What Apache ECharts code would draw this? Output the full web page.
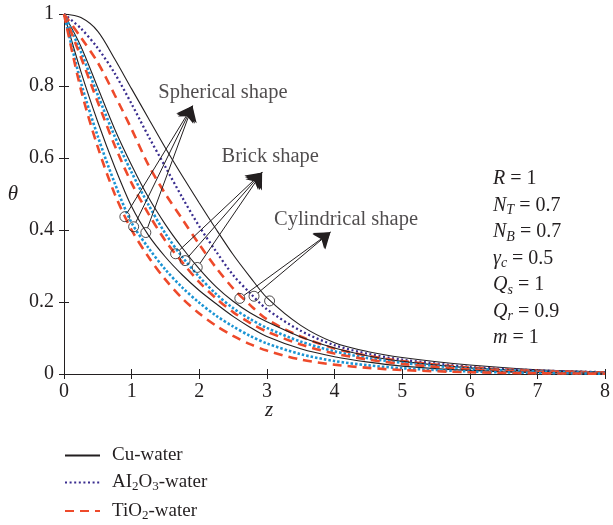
<!DOCTYPE html>
<html>
<head>
<meta charset="utf-8">
<script src="https://cdn.jsdelivr.net/npm/echarts@6/dist/echarts.min.js"></script>
<style>
  html, body { margin: 0; padding: 0; background: #fff; }
  #chart { width: 613px; height: 525px; }
</style>
</head>
<body>
<div id="chart"></div>
<script>
// z values shared by all curves
const zValues = [0, 0.25, 0.5, 0.75, 1, 1.25, 1.5, 1.75, 2, 2.25, 2.5, 2.75, 3, 3.5, 4, 4.5, 5, 6, 7, 8];

// spherical shape (lowest group)
const cuSpherical = [1, 0.84, 0.7, 0.575, 0.465, 0.385, 0.325, 0.275, 0.232, 0.195, 0.16, 0.13, 0.104, 0.07, 0.048, 0.033, 0.022, 0.01, 0.004, 0.002];
const alSpherical = [1, 0.81, 0.66, 0.53, 0.42, 0.35, 0.29, 0.24, 0.198, 0.162, 0.132, 0.106, 0.085, 0.055, 0.036, 0.024, 0.016, 0.007, 0.003, 0.001];
const tiSpherical = [1, 0.79, 0.63, 0.5, 0.4, 0.325, 0.262, 0.21, 0.168, 0.134, 0.106, 0.083, 0.065, 0.04, 0.026, 0.017, 0.011, 0.005, 0.002, 0.001];

// brick shape (middle group)
const cuBrick = [1, 0.91, 0.795, 0.68, 0.58, 0.49, 0.415, 0.35, 0.292, 0.242, 0.202, 0.17, 0.145, 0.103, 0.072, 0.05, 0.035, 0.017, 0.008, 0.004];
const alBrick = [1, 0.895, 0.775, 0.66, 0.56, 0.47, 0.39, 0.325, 0.27, 0.222, 0.183, 0.153, 0.128, 0.09, 0.063, 0.044, 0.031, 0.015, 0.007, 0.003];
const tiBrick = [1, 0.88, 0.755, 0.635, 0.53, 0.445, 0.37, 0.31, 0.255, 0.21, 0.172, 0.142, 0.118, 0.082, 0.057, 0.04, 0.028, 0.013, 0.006, 0.003];

// cylindrical shape (top group)
const cuCylindrical = [1, 0.99, 0.952, 0.875, 0.792, 0.71, 0.628, 0.55, 0.475, 0.402, 0.332, 0.27, 0.212, 0.135, 0.087, 0.062, 0.046, 0.025, 0.012, 0.006];
const alCylindrical = [1, 0.96, 0.905, 0.835, 0.75, 0.66, 0.575, 0.49, 0.41, 0.34, 0.275, 0.225, 0.18, 0.12, 0.08, 0.056, 0.04, 0.02, 0.01, 0.005];
const tiCylindrical = [1, 0.935, 0.865, 0.775, 0.68, 0.58, 0.5, 0.43, 0.36, 0.295, 0.238, 0.192, 0.152, 0.104, 0.071, 0.05, 0.036, 0.018, 0.009, 0.004];

// circle markers on the curves, [z, theta]
const sphericalMarks = [[0.9, 0.437], [1.03, 0.409], [1.21, 0.393]];
const brickMarks = [[1.65, 0.334], [1.79, 0.315], [1.97, 0.296]];
const cylindricalMarks = [[2.6, 0.21], [2.81, 0.216], [3.04, 0.203]];

// arrow tips and labels
const sphericalTip = [1.9, 0.745];
const brickTip = [2.93, 0.56];
const cylindricalTip = [3.94, 0.394];
const shapeLabels = [
    [2.35, 0.783, 'Spherical shape'],
    [3.05, 0.603, 'Brick shape'],
    [4.17, 0.428, 'Cylindrical shape']
];

const serif = 'Liberation Serif';
const ink = '#231f20';
const red = '#ee4a2b';
const lightBlue = '#1b94d4';
const purple = '#3a2d8f';

function pairs(values) {
    return zValues.map((z, i) => [z, values[i]]);
}

function curve(name, values, style) {
    return {
        name: name,
        type: 'line',
        data: pairs(values),
        smooth: 0.3,
        showSymbol: false,
        symbol: 'none',
        lineStyle: style,
        itemStyle: { color: style.color },
        z: 2
    };
}

const solid = { color: ink, width: 1.1, type: 'solid' };
const dotPurple = { color: purple, width: 2.3, type: [2, 2.6] };
const dotBlue = { color: lightBlue, width: 2.6, type: [2.5, 2] };
const dashRed = { color: red, width: 2.6, type: [9, 6] };

// start each arrow at the rim of its circle (radius in pixels, axis scale in px per unit)
const circleR = 5;
const pxPerZ = 68;
const pxPerTheta = 360;
function fromRim(p, tip) {
    const dx = (tip[0] - p[0]) * pxPerZ;
    const dy = (tip[1] - p[1]) * pxPerTheta;
    const len = Math.sqrt(dx * dx + dy * dy);
    return [p[0] + (dx / len) * circleR / pxPerZ, p[1] + (dy / len) * circleR / pxPerTheta];
}

const arrowLines = [];
sphericalMarks.forEach((p) => arrowLines.push({ coords: [fromRim(p, sphericalTip), sphericalTip] }));
brickMarks.forEach((p) => arrowLines.push({ coords: [fromRim(p, brickTip), brickTip] }));
cylindricalMarks.slice(0, 2).forEach((p) => arrowLines.push({ coords: [fromRim(p, cylindricalTip), cylindricalTip] }));

const params = [
    '{i|R} = 1',
    '{i|N}{sub|T} = 0.7',
    '{i|N}{sub|B} = 0.7',
    '{i|γ}{sub|c} = 0.5',
    '{i|Q}{sub|s} = 1',
    '{i|Q}{sub|r} = 0.9',
    '{i|m} = 1'
];
const richParam = {
    n: { fontFamily: serif, fontSize: 20, color: ink, lineHeight: 24 },
    i: { fontFamily: serif, fontSize: 20, fontStyle: 'italic', color: ink, lineHeight: 24 },
    sub: { fontFamily: serif, fontSize: 14, fontStyle: 'italic', color: ink, lineHeight: 11, verticalAlign: 'bottom' }
};

const chart = echarts.init(document.getElementById('chart'), null, { renderer: 'canvas' });

chart.setOption({
    animation: false,
    backgroundColor: '#fff',
    grid: { left: 64, right: 5, top: 14, bottom: 151 },
    legend: {
        data: ['Cu-water', 'AI2O3-water', 'TiO2-water'],
        orient: 'vertical',
        left: 64,
        top: 446,
        height: 90,
        padding: 0,
        itemWidth: 35,
        itemHeight: 14,
        itemGap: 8,
        itemStyle: { opacity: 0 },
        formatter: function (name) {
            if (name === 'AI2O3-water') return '{n|AI}{s|2}{n|O}{s|3}{n|-water}';
            if (name === 'TiO2-water') return '{n|TiO}{s|2}{n|-water}';
            return '{n|' + name + '}';
        },
        textStyle: {
            fontFamily: serif,
            fontSize: 19,
            color: ink,
            padding: [0, 0, 0, 7],
            rich: {
                n: { fontFamily: serif, fontSize: 19, color: ink, lineHeight: 22 },
                s: { fontFamily: serif, fontSize: 13, color: ink, lineHeight: 10, verticalAlign: 'bottom' }
            }
        }
    },
    xAxis: [
        {
            type: 'value', min: 0, max: 8, interval: 1,
            axisLine: { show: true, lineStyle: { color: ink, width: 1 } },
            axisTick: { show: true, inside: true, length: 5, lineStyle: { color: ink } },
            axisLabel: { fontFamily: serif, fontSize: 20, color: ink, margin: 8 },
            splitLine: { show: false }
        },
        {
            type: 'value', min: 0, max: 8, interval: 1, position: 'top',
            axisLine: { show: true, lineStyle: { color: ink, width: 1 } },
            axisTick: { show: true, inside: true, length: 5, lineStyle: { color: ink } },
            axisLabel: { show: false },
            splitLine: { show: false }
        }
    ],
    yAxis: [
        {
            type: 'value', min: 0, max: 1, interval: 0.2,
            name: 'θ', nameLocation: 'middle', nameGap: 46, nameRotate: 0,
            nameTextStyle: { fontFamily: serif, fontSize: 21, fontStyle: 'italic', color: ink },
            axisLine: { show: true, lineStyle: { color: ink, width: 1 } },
            axisTick: { show: true, inside: true, length: 5, lineStyle: { color: ink } },
            axisLabel: { fontFamily: serif, fontSize: 20, color: ink, margin: 10 },
            splitLine: { show: false }
        },
        {
            type: 'value', min: 0, max: 1, interval: 0.2, position: 'right',
            axisLine: { show: true, lineStyle: { color: ink, width: 1 } },
            axisTick: { show: true, inside: true, length: 5, lineStyle: { color: ink } },
            axisLabel: { show: false },
            splitLine: { show: false }
        }
    ],
    series: [
        curve('Cu-water', cuCylindrical, solid),
        curve('AI2O3-water', alCylindrical, dotPurple),
        curve('TiO2-water', tiCylindrical, dashRed),
        curve('Cu-water', cuBrick, solid),
        curve('AI2O3-water', alBrick, dotBlue),
        curve('TiO2-water', tiBrick, dashRed),
        curve('Cu-water', cuSpherical, solid),
        curve('AI2O3-water', alSpherical, dotBlue),
        curve('TiO2-water', tiSpherical, dashRed),
        {
            name: 'arrows',
            type: 'lines',
            coordinateSystem: 'cartesian2d',
            data: arrowLines,
            symbol: ['none', 'arrow'],
            symbolSize: [0, 15],
            lineStyle: { color: ink, width: 1, opacity: 1 },
            z: 4
        },
        {
            name: 'marks',
            type: 'scatter',
            data: sphericalMarks.concat(brickMarks, cylindricalMarks),
            symbol: 'circle',
            symbolSize: 10,
            itemStyle: { color: 'rgba(255,255,255,0)', borderColor: ink, borderWidth: 1 },
            z: 5
        },
        {
            name: 'labels',
            type: 'scatter',
            data: shapeLabels,
            symbolSize: 0,
            label: {
                show: true,
                position: 'inside',
                formatter: (p) => p.data[2],
                fontFamily: serif,
                fontSize: 20.5,
                color: ink
            },
            z: 6
        }
    ],
    graphic: [
        {
            type: 'text',
            left: 265,
            top: 400,
            style: { text: 'z', font: 'italic 21px ' + serif, fill: ink }
        }
    ].concat(params.map((t, i) => ({
        type: 'text',
        left: 493,
        top: 169 + i * 26.5,
        style: { text: t, rich: richParam, font: '20px ' + serif, fill: ink }
    })))
});
</script>
</body>
</html>
